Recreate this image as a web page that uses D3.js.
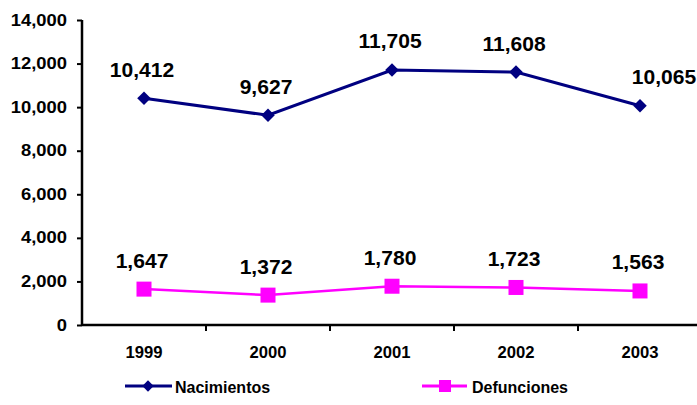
<!DOCTYPE html>
<html>
<head>
<meta charset="utf-8">
<script src="https://cdn.jsdelivr.net/npm/d3@7"></script>
<style>
  html, body { margin: 0; padding: 0; background: #fff; }
  svg { display: block; font-family: "Liberation Sans", Arial, sans-serif; font-weight: bold; }
</style>
</head>
<body>
<svg id="chart" width="697" height="405"></svg>
<script>
const years = ["1999", "2000", "2001", "2002", "2003"];
const nacimientos = [10412, 9627, 11705, 11608, 10065];
const defunciones = [1647, 1372, 1780, 1723, 1563];
const yTicks = [0, 2000, 4000, 6000, 8000, 10000, 12000, 14000];
const seriesNames = ["Nacimientos", "Defunciones"];

const svg = d3.select("#chart");
const fmt = d3.format(",");
const FF = "Liberation Sans, Arial, sans-serif";

const x = d3.scaleBand().domain(years).range([82, 702]);
const y = d3.scaleLinear().domain([0, 14000]).range([325, 20]);

// Y axis
const yAxis = svg.append("g").attr("transform", "translate(82,0)")
  .call(d3.axisLeft(y).tickValues(yTicks).tickFormat(fmt).tickSize(5).tickPadding(5));
yAxis.select(".domain").attr("stroke", "#000").attr("stroke-width", 2.5).attr("d", "M0,20V325");
yAxis.selectAll(".tick line").attr("stroke", "#000").attr("stroke-width", 2);
yAxis.selectAll(".tick text").attr("font-size", 16).attr("font-weight", "bold").attr("fill", "#000")
  .attr("font-family", FF).attr("x", -13).attr("transform", "scale(1.15,1)");

// X axis
const xAxis = svg.append("g").attr("transform", "translate(0,325)")
  .call(d3.axisBottom(x).tickSize(0).tickPadding(0));
xAxis.select(".domain").attr("stroke", "#000").attr("stroke-width", 2.5).attr("d", "M82,0H697");
xAxis.selectAll(".tick text").attr("font-size", 16).attr("font-weight", "bold").attr("fill", "#000")
  .attr("font-family", FF).attr("dy", null).attr("y", 33).attr("transform", "scale(1.04,1)");
// category boundary ticks
xAxis.selectAll(".bound").data(years.slice(1)).enter().append("line")
  .attr("x1", d => x(d)).attr("x2", d => x(d)).attr("y1", 0).attr("y2", 6)
  .attr("stroke", "#000").attr("stroke-width", 2);

const cx = d => x(d) + x.bandwidth() / 2;
const line1 = d3.line().x((d, i) => cx(years[i])).y(d => y(d));

// data labels: centred above the point; the last "Nacimientos" label was nudged right in the original
function labels(data, cls, nudgeLast) {
  svg.selectAll("." + cls).data(data).enter().append("text").attr("class", cls)
    .attr("transform", (d, i) => {
      const shift = (nudgeLast && i === data.length - 1) ? 24 : -2;
      return `translate(${cx(years[i]) + shift},${y(d) - 21.5}) scale(1.08,1)`;
    })
    .attr("text-anchor", "middle").attr("font-size", 19.5).attr("fill", "#000").text(d => fmt(d));
}

// Nacimientos line
svg.append("path").datum(nacimientos).attr("d", line1)
  .attr("fill", "none").attr("stroke", "#000080").attr("stroke-width", 3);
svg.selectAll(".dia").data(nacimientos).enter().append("path")
  .attr("d", d3.symbol().type(d3.symbolSquare).size(92))
  .attr("transform", (d, i) => `translate(${cx(years[i])},${y(d)}) rotate(45)`)
  .attr("fill", "#000080");
labels(nacimientos, "lab1", true);

// Defunciones line
svg.append("path").datum(defunciones).attr("d", line1)
  .attr("fill", "none").attr("stroke", "#FF00FF").attr("stroke-width", 2.5);
svg.selectAll(".sq").data(defunciones).enter().append("rect")
  .attr("x", (d, i) => cx(years[i]) - 7.5).attr("y", d => y(d) - 7.5)
  .attr("width", 15).attr("height", 15).attr("fill", "#FF00FF");
labels(defunciones, "lab2", false);

// Legend
const lg = svg.append("g");
lg.append("line").attr("x1", 125).attr("x2", 172).attr("y1", 386).attr("y2", 386)
  .attr("stroke", "#000080").attr("stroke-width", 3);
lg.append("path").attr("d", d3.symbol().type(d3.symbolSquare).size(64))
  .attr("transform", "translate(148,386) rotate(45)").attr("fill", "#000080");
lg.append("text").attr("x", 175).attr("y", 393).attr("font-size", 16).text(seriesNames[0]);
lg.append("line").attr("x1", 422).attr("x2", 467).attr("y1", 386).attr("y2", 386)
  .attr("stroke", "#FF00FF").attr("stroke-width", 3);
lg.append("rect").attr("x", 439).attr("y", 380).attr("width", 12).attr("height", 12).attr("fill", "#FF00FF");
lg.append("text").attr("x", 472).attr("y", 393).attr("font-size", 16).text(seriesNames[1]);
</script>
</body>
</html>
